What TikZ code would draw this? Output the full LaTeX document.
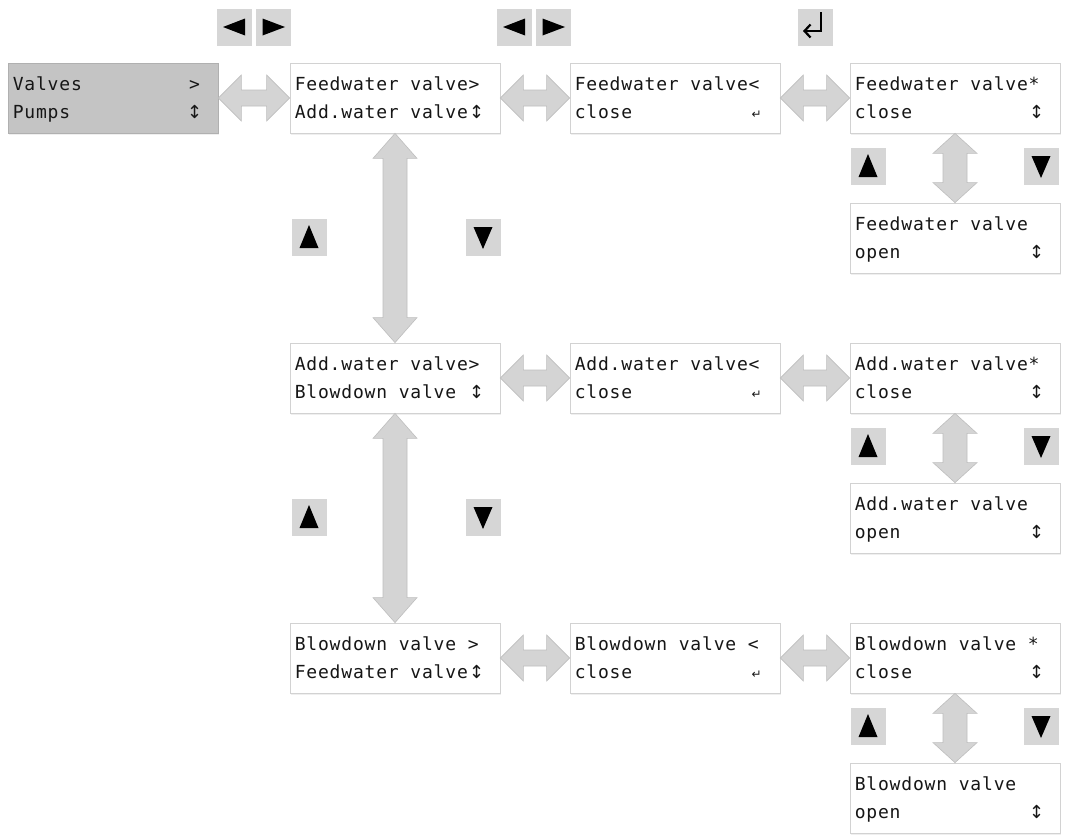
\documentclass[tikz,border=0pt]{standalone}
\usepackage{fontspec}
\usetikzlibrary{calc,arrows.meta,shadows}
\newfontfamily\lcdfont[LetterSpace=4.5]{DejaVu Sans Mono}
\newfontfamily\lcdsym{DejaVu Sans}

\definecolor{boxline}{HTML}{D2D2D2}
\definecolor{menufill}{HTML}{C4C4C4}
\definecolor{arrowfill}{HTML}{D4D4D4}
\definecolor{arrowline}{HTML}{BEBEBE}
\definecolor{btnfill}{HTML}{D6D6D6}
\definecolor{ink}{HTML}{161616}

\tikzset{
  lcd/.style={draw=boxline, line width=0.8pt, fill=white, minimum width=210, minimum height=70,
    inner sep=0pt, drop shadow={opacity=0.12, shadow xshift=1pt, shadow yshift=-2pt}},
  lcdmenu/.style={lcd, fill=menufill, draw=menufill!90!black},
  lcdtext/.style={inner sep=0pt, text=ink, font=\lcdfont\fontsize{18}{22}\selectfont},
  symtext/.style={inner sep=0pt, text=ink, font=\lcdsym\fontsize{18}{22}\selectfont},
  fatarrow/.style={fill=arrowfill, draw=arrowline, line width=0.6pt, line join=miter},
  btn/.style={fill=btnfill, minimum width=35, minimum height=37, inner sep=0pt},
  tri/.style={fill=black},
}

% display box: style, name, left, top, first line, second line, right-hand symbol
\newcommand\lcdbox[7][lcd]{%
  \node[#1] (#2) at (#3+105,#4+35) {};
  \node[lcdtext, anchor=base west] (#2-a) at ([shift={(5,28)}]#2.north west) {#5};
  \node[lcdtext, anchor=base west] (#2-b) at ([shift={(5,56)}]#2.north west) {#6};
  \node[symtext, anchor=base] (#2-c) at ([shift={(187,56)}]#2.north west) {#7};
}
\newcommand\updn{↕}
\newcommand\retsym{{\lcdsym\fontsize{12}{14}\selectfont ↵}}

% fat double arrow between two boxes side by side
\newcommand\harrow[2]{%
  \path[fatarrow] let \p1=(#1.east), \p2=(#2.west) in
    (\x1,\y1) -- (\x1+23pt,\y1+23pt) -- (\x1+23pt,\y1+8pt) -- (\x2-23pt,\y1+8pt)
    -- (\x2-23pt,\y1+23pt) -- (\x2,\y1) -- (\x2-23pt,\y1-23pt) -- (\x2-23pt,\y1-8pt)
    -- (\x1+23pt,\y1-8pt) -- (\x1+23pt,\y1-23pt) -- cycle;
}
% fat double arrow between two stacked boxes; #3 = head length
\newcommand\varrow[3]{%
  \path[fatarrow] let \p1=(#1.south), \p2=(#2.north) in
    (\x1,\y1) -- (\x1+22pt,\y1-#3) -- (\x1+12pt,\y1-#3) -- (\x1+12pt,\y2+#3)
    -- (\x1+22pt,\y2+#3) -- (\x1,\y2) -- (\x1-22pt,\y2+#3) -- (\x1-12pt,\y2+#3)
    -- (\x1-12pt,\y1-#3) -- (\x1-22pt,\y1-#3) -- cycle;
}
% key buttons
\newcommand\keyleft[3]{\node[btn] (#1) at (#2,#3) {};
  \fill[tri] ([shift={(-11.5,0)}]#1.center) -- ([shift={(10.5,-8.5)}]#1.center) -- ([shift={(10.5,8.5)}]#1.center) -- cycle;}
\newcommand\keyright[3]{\node[btn] (#1) at (#2,#3) {};
  \fill[tri] ([shift={(11.5,0)}]#1.center) -- ([shift={(-11,-8.5)}]#1.center) -- ([shift={(-11,8.5)}]#1.center) -- cycle;}
\newcommand\keyup[3]{\node[btn] (#1) at (#2,#3) {};
  \fill[tri] ([shift={(0,-12)}]#1.center) -- ([shift={(9.5,11)}]#1.center) -- ([shift={(-9.5,11)}]#1.center) -- cycle;}
\newcommand\keydown[3]{\node[btn] (#1) at (#2,#3) {};
  \fill[tri] ([shift={(0,12)}]#1.center) -- ([shift={(9.5,-10)}]#1.center) -- ([shift={(-9.5,-10)}]#1.center) -- cycle;}

\begin{document}
\begin{tikzpicture}[x=1pt,y=-1pt]
\useasboundingbox[fill=white] (0,0) rectangle (1065,835);

% top row of navigation keys
\keyleft{kl1}{234.5}{27}
\keyright{kr1}{273.5}{27}
\keyleft{kl2}{514.5}{27}
\keyright{kr2}{553.5}{27}
\node[btn] (kent) at (815,27) {};
\draw[line width=2.2pt, -{Straight Barb[length=6pt,width=13pt,line width=2.2pt]}]
  ([shift={(6,-15)}]kent.center) -- ([shift={(6,4)}]kent.center) -- ([shift={(-12,4)}]kent.center);

% main menu
\lcdbox[lcdmenu]{menu}{8}{63}{Valves}{Pumps}{\updn}
\node[lcdtext, anchor=base] (menu-d) at ([shift={(187,28)}]menu.north west) {>};

% feedwater valve
\lcdbox{fw}{290}{63}{Feedwater valve>}{Add.water valve}{\updn}
\lcdbox{fwsel}{570}{63}{Feedwater valve<}{close}{\retsym}
\lcdbox{fwedit}{850}{63}{Feedwater valve*}{close}{\updn}
\lcdbox{fwopen}{850}{203}{Feedwater valve}{open}{\updn}

% additional water valve
\lcdbox{aw}{290}{343}{Add.water valve>}{Blowdown valve}{\updn}
\lcdbox{awsel}{570}{343}{Add.water valve<}{close}{\retsym}
\lcdbox{awedit}{850}{343}{Add.water valve*}{close}{\updn}
\lcdbox{awopen}{850}{483}{Add.water valve}{open}{\updn}

% blowdown valve
\lcdbox{bd}{290}{623}{Blowdown valve >}{Feedwater valve}{\updn}
\lcdbox{bdsel}{570}{623}{Blowdown valve <}{close}{\retsym}
\lcdbox{bdedit}{850}{623}{Blowdown valve *}{close}{\updn}
\lcdbox{bdopen}{850}{763}{Blowdown valve}{open}{\updn}

% horizontal transitions
\harrow{menu}{fw}
\harrow{fw}{fwsel}
\harrow{fwsel}{fwedit}
\harrow{aw}{awsel}
\harrow{awsel}{awedit}
\harrow{bd}{bdsel}
\harrow{bdsel}{bdedit}

% vertical transitions
\varrow{fw}{aw}{25pt}
\varrow{aw}{bd}{25pt}
\varrow{fwedit}{fwopen}{20pt}
\varrow{awedit}{awopen}{20pt}
\varrow{bdedit}{bdopen}{20pt}

% up / down keys
\keyup{ku1}{309}{237}
\keydown{kd1}{483}{237}
\keyup{ku2}{309}{517}
\keydown{kd2}{483}{517}
\keyup{ku3}{868}{166}
\keydown{kd3}{1041}{166}
\keyup{ku4}{868}{446}
\keydown{kd4}{1041}{446}
\keyup{ku5}{868}{726}
\keydown{kd5}{1041}{726}
\end{tikzpicture}
\end{document}
